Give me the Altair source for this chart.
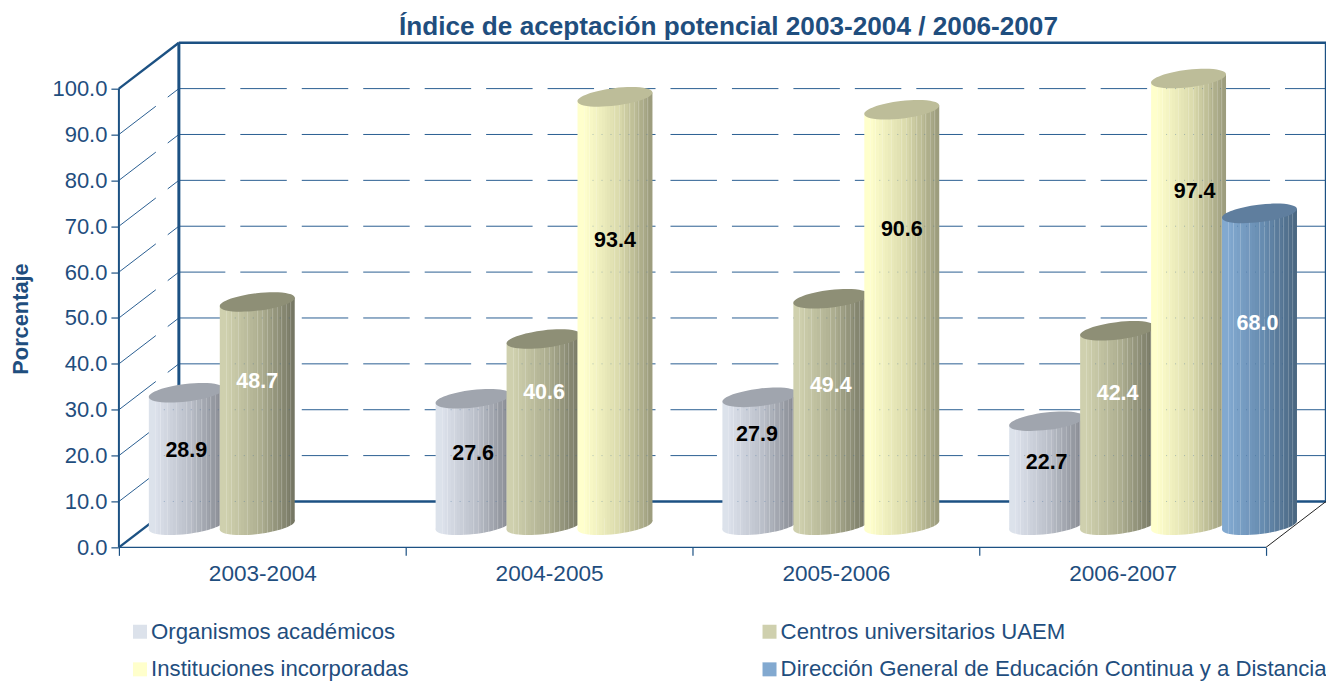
import math
import altair as alt
import pandas as pd

CATEGORIES = ["2003-2004", "2004-2005", "2005-2006", "2006-2007"]
SERIES = ["Organismos académicos", "Centros universitarios UAEM",
          "Instituciones incorporadas", "Dirección General de Educación Continua y a Distancia"]
ORGANISMOS = [28.9, 27.6, 27.9, 22.7]
CENTROS = [48.7, 40.6, 49.4, 42.4]
INSTITUCIONES = [None, 93.4, 90.6, 97.4]
DIRECCION = [None, None, None, 68.0]
VALUES = [ORGANISMOS, CENTROS, INSTITUCIONES, DIRECCION]
# Label anchors, in axis units
LABEL_HEIGHT = [[21.4, 20.8, 24.9, 18.8], [36.5, 34.0, 35.6, 33.9],
                [None, 67.2, 69.6, 77.9], [None, None, None, 49.1]]
LABEL_NUDGE = [[0, 0, -0.01, 0], [0, 0, 0, 0], [0, 0, 0, 0.021], [0, 0, 0, -0.007]]
LABEL_COLOR = ["black", "white", "black", "white"]

TEXT = "#1F4E7E"
FONT = "Liberation Sans"
# left, middle, right colour of a cylinder, and the colour of its lid
SHADES = [("#DCE2EB", "#B9BEC8", "#85888F", "#A0A5AE"),
          ("#CFD0AE", "#ACAD8F", "#737462", "#8E8F76"),
          ("#FFFFCC", "#DBDBAD", "#9A9A7C", "#BDBD99"),
          ("#82A9D0", "#668BAF", "#4A6680", "#5F7E9E")]
LEGEND_COLORS = ["#DCE2EB", "#CFD0AE", "#FFFFCC", "#82A9D0"]
HAIRLINES = [0.08, 0.15, 0.24, 0.37, 0.50, 0.57, 0.63, 0.70, 0.76, 0.82, 0.88, 0.94]

PX_X = 287.0
PX_Y = 4.59
DEPTH_X = 60 / PX_X
DEPTH_Y = 10.0
X_MAX = 1208 / PX_X
Y_MAX = 110.0
BASE = 4.8
HALF = 37.5 / PX_X
TILT = 4.3 / PX_Y


def hexmix(a, b, t):
    pa = [int(a[i:i + 2], 16) for i in (1, 3, 5)]
    pb = [int(b[i:i + 2], 16) for i in (1, 3, 5)]
    return "#%02x%02x%02x" % tuple(round(p + (q - p) * t) for p, q in zip(pa, pb))


def shade_at(f, left, mid, right):
    if f < 0.08:
        return left
    if f < 0.55:
        return hexmix(left, mid, (f - 0.08) / 0.47)
    return hexmix(mid, right, (f - 0.55) / 0.45)


def gradient(left, mid, right):
    stops = []
    n = 75
    for i in range(n):
        a, b = i / n, (i + 1) / n
        c = shade_at((i // 3 * 3 + 1.5) / n, left, mid, right)
        if any(a <= h < b for h in HAIRLINES):
            c = hexmix(c, "#ffffff", 0.2)
        stops.append(alt.GradientStop(offset=a, color=c))
        stops.append(alt.GradientStop(offset=b, color=c))
    return alt.LinearGradient(gradient="linear", stops=stops, x1=0, x2=1, y1=0, y2=0)


def ellipse_path():
    a, b, th = 1.007, 0.2333, math.radians(-6.9)
    k = 0.5523
    pts = [(a, 0), (a, k * b), (k * a, b), (0, b), (-k * a, b), (-a, k * b), (-a, 0),
           (-a, -k * b), (-k * a, -b), (0, -b), (k * a, -b), (a, -k * b), (a, 0)]
    rot = [(x * math.cos(th) - y * math.sin(th), x * math.sin(th) + y * math.cos(th)) for x, y in pts]
    s = "M%.4f,%.4f" % rot[0]
    for i in range(1, 13, 3):
        s += "C%.4f,%.4f,%.4f,%.4f,%.4f,%.4f" % (rot[i] + rot[i + 1] + rot[i + 2])
    return s + "Z"


LID = ellipse_path()

names_js = "[" + ",".join("'" + c + "'" for c in CATEGORIES) + "]"
x_axis = alt.Axis(
    values=[0, 0.5, 1, 1.5, 2, 2.5, 3, 3.5, 4], domain=False, grid=False, tickSize=8,
    tickColor="#1C5183", tickWidth=1.2,
    tickOpacity={"condition": {"test": "datum.value % 1 != 0", "value": 0}, "value": 1},
    labelExpr="datum.value % 1 ? " + names_js + "[floor(datum.value)] : ''",
    labelFont=FONT, labelFontSize=22.6, labelColor=TEXT, labelPadding=7, labelOverlap=False,
    labelFlush=False, labelBound=False, title=None)
y_axis = alt.Axis(
    values=list(range(0, 101, 10)), format=".1f", domain=False, grid=False, tickSize=8,
    tickColor="#1C5183", tickWidth=1.2, labelFont=FONT, labelFontSize=22, labelColor=TEXT,
    labelPadding=4, title="Porcentaje", titleFont=FONT, titleFontSize=21.8, titleFontWeight="bold",
    titleColor=TEXT, titleX=-86, titleY=276)
x_scale = alt.Scale(domain=[0, X_MAX], nice=False, zero=False)
y_scale = alt.Scale(domain=[0, Y_MAX], nice=False, zero=False)
X = lambda f: alt.X(f, type="quantitative", scale=x_scale, axis=x_axis)
Y = lambda f: alt.Y(f, type="quantitative", scale=y_scale, axis=y_axis)


def segments(rows, **mark):
    df = pd.DataFrame(rows, columns=["x", "y", "x2", "y2"])
    return alt.Chart(df).mark_rule(**mark).encode(X("x"), Y("y"), x2="x2:Q", y2="y2:Q")


grid_back = [(DEPTH_X, v + DEPTH_Y, X_MAX, v + DEPTH_Y) for v in range(10, 100, 10)]
grid_side = [(0, v, DEPTH_X, v + DEPTH_Y) for v in range(10, 100, 10)]
grid = segments(grid_back + grid_side, color="#2A5E92", strokeWidth=1, strokeDash=[46.5, 15])

frame_thick = segments([(DEPTH_X, 10, X_MAX, 10), (DEPTH_X, 110, X_MAX, 110),
                        (X_MAX, 10, X_MAX, 110), (0, 100, DEPTH_X, 110), (0, 0, DEPTH_X, 10)],
                       color="#1C5183", strokeWidth=2.4)
frame_wall = segments([(DEPTH_X, 10, DEPTH_X, 110)], color="#1C5183", strokeWidth=3)
frame_side = segments([(0, 0, 0, 100)], color="#1C5183", strokeWidth=2)
frame_front = segments([(0, 0, 4, 0)], color="#1C5183", strokeWidth=1.4)
frame_black = segments([(4, 0, X_MAX, 10)], color="#222222", strokeWidth=1)

layers = [grid, frame_thick, frame_wall, frame_side, frame_front, frame_black]

rows = []
for s, name in enumerate(SERIES):
    for c in range(4):
        if VALUES[s][c] is not None:
            rows.append({"series": name, "s": s, "c": c, "value": VALUES[s][c],
                         "cx": c + 0.235 + s * 0.2474,
                         "label_y": LABEL_HEIGHT[s][c], "label_x": c + 0.235 + s * 0.2474 + LABEL_NUDGE[s][c]})
df = pd.DataFrame(rows)

# tiny points hidden behind the cylinders carry the legend
legend = alt.Chart(df).mark_square(size=1, opacity=1).encode(
    X("cx"), Y("value"),
    color=alt.Color("series:N", sort=SERIES, scale=alt.Scale(domain=SERIES, range=LEGEND_COLORS),
                    legend=alt.Legend(orient="none", legendX=10, legendY=578, columns=2, title=None,
                                      direction="horizontal",
                                      symbolType="square", symbolSize=196, symbolStrokeWidth=0,
                                      symbolOpacity=1, labelFont=FONT, labelFontSize=22.2, labelColor=TEXT,
                                      labelOffset=0, labelLimit=700, columnPadding=350, rowPadding=15,
                                      gridAlign="each")))
layers.append(legend)

for s, name in enumerate(SERIES):
    left, mid, right, lid = SHADES[s]
    grad = gradient(left, mid, right)
    d = df[df.s == s]
    body = []
    traces = []
    for _, r in d.iterrows():
        top = BASE + r.value
        body.append({"k": r.c, "x": r.cx - HALF, "y": top - TILT, "y2": BASE - TILT})
        body.append({"k": r.c, "x": r.cx + HALF, "y": top + TILT, "y2": BASE + TILT})
        for level in range(10, 101, 10):
            if level < top - 2:
                traces.append((r.cx - HALF * 0.6, level, r.cx + HALF, level))
    layers.append(alt.Chart(pd.DataFrame(body)).mark_area(fill=grad, opacity=1, interpolate="linear").encode(
        X("x"), Y("y"), y2="y2:Q", detail="k:N"))
    base_df = d.assign(base=BASE)
    layers.append(alt.Chart(base_df).mark_point(filled=True, fill=grad, shape=LID, size=5625, opacity=1, strokeWidth=0)
                  .encode(X("cx"), Y("base")))
    top_df = d.assign(top=BASE + d.value)
    layers.append(alt.Chart(top_df).mark_point(filled=True, fill=lid, shape=LID, size=5625, opacity=1, strokeWidth=0)
                  .encode(X("cx"), Y("top")))
    # faint dotted traces of the wall's grid showing through the cylinders
    layers.append(segments(traces, color="#2A5E92", strokeWidth=1, strokeDash=[1, 8], opacity=0.35))

for s in range(4):
    d = df[df.s == s]
    layers.append(alt.Chart(d).mark_text(font=FONT, fontSize=21.5, fontWeight="bold", color=LABEL_COLOR[s],
                                         baseline="middle", align="center", dy=2)
                  .encode(X("label_x"), Y("label_y"), text=alt.Text("value:Q", format=".1f")))

chart = alt.layer(*layers).properties(
    width=1208, height=505,
    title=alt.TitleParams("Índice de aceptación potencial 2003-2004 / 2006-2007", font=FONT, fontSize=26.2,
                          fontWeight="bold", color=TEXT, anchor="middle", dx=6, offset=1),
    padding={"left": 111, "top": 34.5, "right": 0, "bottom": 133.5},
    autosize="none", background="white",
).configure_view(stroke=None)

chart.save("out.html", embed_options={"renderer": "svg", "actions": False})
